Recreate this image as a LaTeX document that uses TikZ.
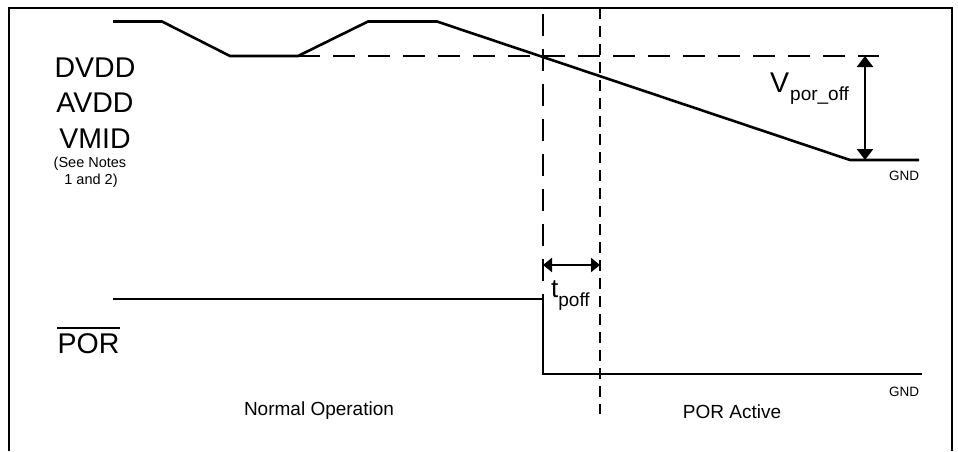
\documentclass[tikz,border=0pt]{standalone}
\usepackage{fontspec}
\setmainfont{Liberation Sans}
\usetikzlibrary{arrows.meta}

\begin{document}
\begin{tikzpicture}[x=1pt, y=-1pt,
	wave/.style={line width=2.6pt, line join=miter},
	longdash/.style={line width=2.6pt, dash pattern=on 22pt off 13pt},
	shortdash/.style={line width=2.4pt, dash pattern=on 11pt off 7pt},
	dim/.style={line width=2.6pt, {Triangle[length=11pt,width=16pt]}-{Triangle[length=11pt,width=16pt]}},
	lbig/.style={inner sep=0pt, anchor=base, font=\fontsize{28.5}{30}\selectfont},
	lmid/.style={inner sep=0pt, anchor=base, font=\fontsize{19}{21}\selectfont},
	lsmall/.style={inner sep=0pt, anchor=base, font=\fontsize{14.5}{16}\selectfont},
	lgnd/.style={inner sep=0pt, anchor=base, font=\fontsize{13.5}{15}\selectfont}]
	\useasboundingbox (0,0) rectangle (958,451);
	% frame, open at the bottom
	\draw [line width=1.8pt] (9,451) -- (9,8) -- (952,8) -- (952,451);
	% supplies
	\node [lbig] (dvdd) at (95,77) {DVDD};
	\node [lbig] (avdd) at (95,112) {AVDD};
	\node [lbig] (vmid) at (95,148) {VMID};
	\node [lsmall] (notesa) at (90,167) {(See Notes};
	\node [lsmall] (notesb) at (91,184) {1 and 2)};
	\draw [wave] (113,21.5) -- (162,21.5) -- (230,56) -- (298,56) -- (368,21.5)
		-- (437,21.5) -- (850,160) -- (919,160);
	\draw [longdash] (298,56) -- (879,56);
	\node [lgnd] (gnda) at (904,180) {GND};
	% threshold
	\coordinate (vtop) at (865,56);
	\coordinate (vbot) at (865,160);
	\draw [dim] (vtop) -- (vbot);
	\node [lbig, anchor=base west] (vpor) at (770,92)
		{V\kern1pt\raisebox{-8pt}{\fontsize{19}{21}\selectfont por\_off}};
	% timing marks
	\draw [longdash] (543,14) -- (543,299);
	\draw [shortdash] (600,8) -- (600,414);
	\coordinate (ta) at (543,265);
	\coordinate (tb) at (600,265);
	\draw [dim, {Triangle[length=9pt,width=14pt]}-{Triangle[length=9pt,width=14pt]}] (ta) -- (tb);
	\node [inner sep=0pt, anchor=base west, font=\fontsize{26}{28}\selectfont] (tpoff) at (551,297)
		{t\raisebox{-9pt}{\fontsize{19}{21}\selectfont poff}};
	% POR output
	\node [lbig] (por) at (88.5,353) {POR};
	\draw [line width=2pt] ([yshift=5pt]por.north west) -- ([yshift=5pt]por.north east);
	\draw [wave] (113,299) -- (543,299) -- (543,374) -- (922,374);
	\node [lgnd] (gndb) at (904,396) {GND};
	\node [lmid] (normal) at (319,415) {Normal Operation};
	\node [lmid] (active) at (732,418) {POR Active};
\end{tikzpicture}
\end{document}
